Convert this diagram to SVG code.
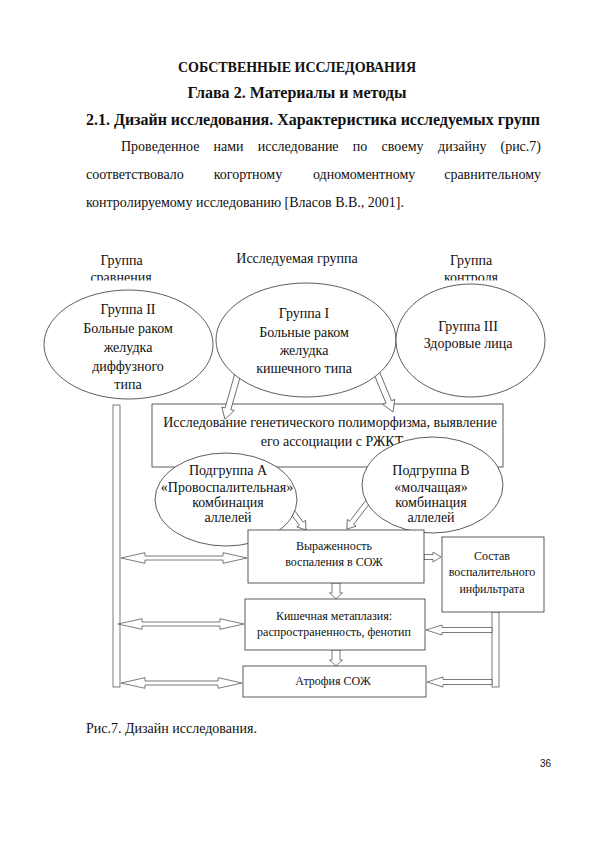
<svg xmlns="http://www.w3.org/2000/svg" width="594" height="841" viewBox="0 0 594 841">
<style>
text{font-family:"Liberation Serif","Times New Roman",serif;fill:#111}
.h{font-weight:bold}
.p{font-size:14px}
.d{font-size:14px;text-anchor:middle}
.b{font-size:12px;text-anchor:middle}
.sh{fill:#fff;stroke:#333;stroke-width:0.8}
.ar{fill:#fff;stroke:#444;stroke-width:0.7}
.num{font-family:"Liberation Sans",Arial,sans-serif;font-size:10px;text-anchor:end}
</style>
<defs>
<clipPath id="clipL"><rect x="0" y="240" width="594" height="40.5"/></clipPath>
</defs>
<rect width="594" height="841" fill="#fff"/>

<g id="page-text">
<text class="h" x="297" y="72" font-size="14" text-anchor="middle" textLength="238" lengthAdjust="spacingAndGlyphs">СОБСТВЕННЫЕ ИССЛЕДОВАНИЯ</text>
<text class="h" x="297" y="98" font-size="16" text-anchor="middle" textLength="219" lengthAdjust="spacingAndGlyphs">Глава 2. Материалы и методы</text>
<text class="h" x="86" y="125" font-size="16" textLength="454" lengthAdjust="spacingAndGlyphs">2.1. Дизайн исследования. Характеристика исследуемых групп</text>
<text class="p" x="121" y="151">Проведенное</text>
<text class="p" x="213.5" y="151">нами</text>
<text class="p" x="257.7" y="151">исследование</text>
<text class="p" x="352.8" y="151">по</text>
<text class="p" x="381.6" y="151">своему</text>
<text class="p" x="438.1" y="151">дизайну</text>
<text class="p" x="541" y="151" text-anchor="end">(рис.7)</text>
<text class="p" x="86" y="179">соответствовало</text>
<text class="p" x="213.7" y="179">когортному</text>
<text class="p" x="313" y="179">одномоментному</text>
<text class="p" x="541" y="179" text-anchor="end">сравнительному</text>
<text class="p" x="86" y="207">контролируемому исследованию [Власов В.В., 2001].</text>
<text class="p" x="86" y="733">Рис.7. Дизайн исследования.</text>
<text class="num" x="551" y="767">36</text>
</g>

<g id="group-labels">
<text class="d" x="121.5" y="265">Группа</text>
<text class="d" x="121" y="282" clip-path="url(#clipL)">сравнения</text>
<text class="d" x="297" y="263">Исследуемая группа</text>
<text class="d" x="471" y="265">Группа</text>
<text class="d" x="471" y="282" clip-path="url(#clipL)">контроля</text>
</g>

<g id="node-genetic">
<rect class="sh" x="152" y="404" width="351" height="63"/>
<text class="d" x="330" y="427">Исследование генетического полиморфизма, выявление</text>
<text class="d" x="332" y="446">его ассоциации с РЖКТ</text>
</g>

<g id="connectors">
<rect class="ar" x="113" y="405" width="7" height="282"/>
<rect class="ar" x="492" y="612" width="7" height="75"/>
<path class="ar" d="M0,-3 H38 V-6.5 L49,0 L38,6.5 V3 H0 Z" transform="translate(238.4,372.2) rotate(105.9)"/>
<path class="ar" d="M0,-3 H34 V-6.5 L45,0 L34,6.5 V3 H0 Z" transform="translate(375.7,370.5) rotate(67.4)"/>
<path class="ar" d="M0,-2.5 H17 V-5.5 L25,0 L17,5.5 V2.5 H0 Z" transform="translate(291,510) rotate(53.1)"/>
<path class="ar" d="M0,-2.5 H29 V-5.5 L37,0 L29,5.5 V2.5 H0 Z" transform="translate(369.4,499.8) rotate(127.6)"/>
<path class="ar" d="M121,558 L145,552.7 V556 H223 V552.7 L247,558 L223,563.3 V560 H145 V563.3 Z"/>
<path class="ar" d="M118,624 L142,618.7 V622 H220 V618.7 L244,624 L220,629.3 V626 H142 V629.3 Z"/>
<path class="ar" d="M121,683 L145,677.7 V681 H218 V677.7 L242,683 L218,688.3 V685 H145 V688.3 Z"/>
<path class="ar" d="M426,630 L442,625 V627.5 H492 V632.5 H442 V635 Z"/>
<path class="ar" d="M427,682 L443,677 V679.5 H492 V684.5 H443 V687 Z"/>
<path class="ar" d="M424,554.5 H433 V552 L441,557 L433,562 V559.5 H424 Z"/>
<path class="ar" d="M332,583 V593 H329.5 L336,599 L342.5,593 H340 V583 Z"/>
<path class="ar" d="M332,650 V660 H329.5 L336,666 L342.5,660 H340 V650 Z"/>
</g>

<g id="node-group2">
<ellipse class="sh" cx="128.5" cy="344.5" rx="84.5" ry="54.5"/>
<text class="d" x="128" y="314">Группа II</text>
<text class="d" x="128" y="333">Больные раком</text>
<text class="d" x="128" y="352">желудка</text>
<text class="d" x="128" y="371">диффузного</text>
<text class="d" x="128" y="389">типа</text>
</g>

<g id="node-group1">
<ellipse class="sh" cx="306" cy="340" rx="90" ry="57"/>
<text class="d" x="304" y="318">Группа I</text>
<text class="d" x="304" y="337">Больные раком</text>
<text class="d" x="304" y="355">желудка</text>
<text class="d" x="304" y="373">кишечного типа</text>
</g>

<g id="node-group3">
<ellipse class="sh" cx="470.5" cy="340.5" rx="74.5" ry="56.5"/>
<text class="d" x="468" y="331">Группа III</text>
<text class="d" x="468" y="348">Здоровые лица</text>
</g>

<g id="node-subA">
<ellipse class="sh" cx="226" cy="499.5" rx="71" ry="46.5"/>
<text class="d" x="228" y="475">Подгруппа А</text>
<text class="d" x="227" y="492">«Провоспалительная»</text>
<text class="d" x="228" y="507">комбинация</text>
<text class="d" x="228" y="522">аллелей</text>
</g>

<g id="node-subB">
<ellipse class="sh" cx="432.5" cy="485" rx="70.5" ry="48"/>
<text class="d" x="431" y="475">Подгруппа В</text>
<text class="d" x="431" y="492">«молчащая»</text>
<text class="d" x="431" y="507">комбинация</text>
<text class="d" x="431" y="522">аллелей</text>
</g>

<g id="node-inflammation">
<rect class="sh" x="248" y="530" width="176" height="53"/>
<text class="b" x="334" y="550">Выраженность</text>
<text class="b" x="334" y="566">воспаления в СОЖ</text>
</g>

<g id="node-metaplasia">
<rect class="sh" x="245" y="599" width="180" height="51"/>
<text class="b" x="334" y="620">Кишечная метаплазия:</text>
<text class="b" x="334" y="636">распространенность, фенотип</text>
</g>

<g id="node-atrophy">
<rect class="sh" x="243" y="666" width="183" height="31"/>
<text class="b" x="333" y="685">Атрофия СОЖ</text>
</g>

<g id="node-infiltrate">
<rect class="sh" x="442" y="537" width="102" height="75"/>
<text class="b" x="492" y="560">Состав</text>
<text class="b" x="492" y="576">воспалительного</text>
<text class="b" x="492" y="593">инфильтрата</text>
</g>
</svg>
